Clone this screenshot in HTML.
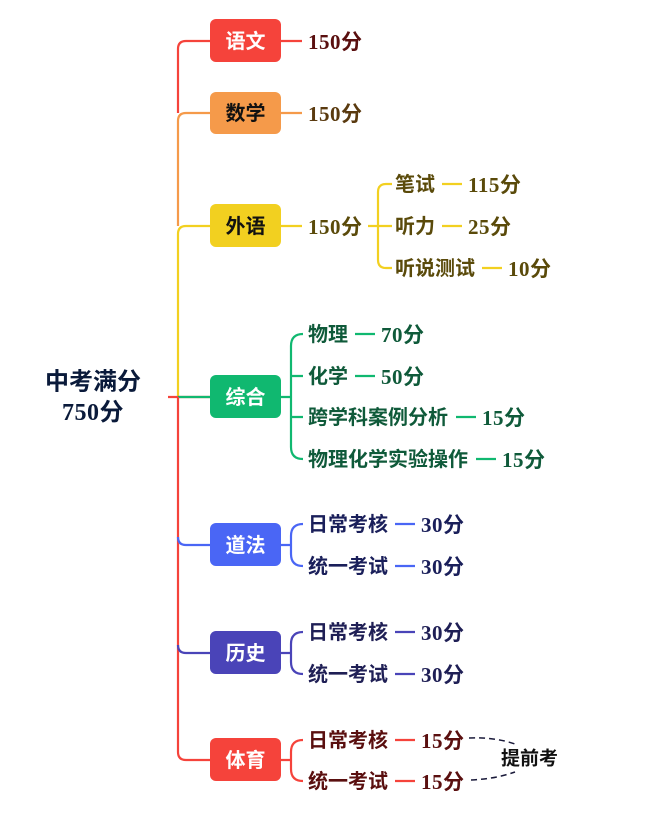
<!DOCTYPE html>
<html><head><meta charset="utf-8"><style>
body{margin:0;background:#fff;}
svg{display:block}
.c{font-family:"Liberation Sans","Noto Sans CJK SC",sans-serif;font-weight:bold;font-size:20px;dominant-baseline:central}
.n{font-family:"Liberation Serif","Noto Sans CJK SC",serif;font-weight:bold;font-size:21px;letter-spacing:0.5px;dominant-baseline:central}
</style></head><body>
<svg width="654" height="823" viewBox="0 0 654 823" xmlns="http://www.w3.org/2000/svg">
<g fill="none" stroke-width="2.2">
<path d="M210 41 H186 Q178 41 178 49 V113" stroke="#f5433b"/>
<path d="M210 113 H186 Q178 113 178 121 V226" stroke="#f59a4a"/>
<path d="M210 226 H186 Q178 226 178 234 V397" stroke="#f2d020"/>
<path d="M168 397 H210" stroke="#f5433b"/>
<path d="M178 397 H210" stroke="#10b870"/>
<path d="M178 397 V752 Q178 760 186 760 H210" stroke="#f5433b"/>
<path d="M178 537 Q178 545 186 545 H210" stroke="#4a66f5"/>
<path d="M178 645 Q178 653 186 653 H210" stroke="#4a44b8"/>
<path d="M281 41 H302" stroke="#f5433b"/>
<path d="M281 113 H302" stroke="#f59a4a"/>
<path d="M281 226 H302" stroke="#f2d020"/>
<path d="M368 226 H392 M386 184 Q378 184 378 192 V260 Q378 268 386 268 H392 M386 184 H392 M442 184 H462 M442 226 H462 M482 268 H502" stroke="#f2d020"/>
<path d="M281 397 H291 M303 334 Q291 334 291 346 V447 Q291 459 303 459 M291 376 Q291 376 303 376 M291 417 H303 M355 334 H375 M355 376 H375 M456 417 H476 M476 459 H496" stroke="#10b870"/>
<path d="M281 545 H291 M303 524 Q291 524 291 536 V554 Q291 566 303 566 M395 524 H415 M395 566 H415" stroke="#4a66f5"/>
<path d="M281 653 H291 M303 632 Q291 632 291 644 V662 Q291 674 303 674 M395 632 H415 M395 674 H415" stroke="#4a44b8"/>
<path d="M281 760 H291 M303 740 Q291 740 291 752 V769 Q291 781 303 781 M395 740 H415 M395 781 H415" stroke="#f5433b"/>
<path d="M469 738 Q495 737 515 744 M471 780 Q495 779 515 772" stroke="#1a1a3a" stroke-width="1.5" stroke-dasharray="6 4"/>
</g>
<rect x="210" y="19" width="71" height="43" rx="6" fill="#f5433b"/>
<rect x="210" y="92" width="71" height="42" rx="6" fill="#f59a4a"/>
<rect x="210" y="204" width="71" height="43" rx="6" fill="#f2d020"/>
<rect x="210" y="375" width="71" height="43" rx="6" fill="#10b870"/>
<rect x="210" y="523" width="71" height="43" rx="6" fill="#4a66f5"/>
<rect x="210" y="631" width="71" height="43" rx="6" fill="#4a44b8"/>
<rect x="210" y="738" width="71" height="43" rx="6" fill="#f5433b"/>
<g class="c" text-anchor="middle">
<text x="245.5" y="42" fill="#fff">语文</text>
<text x="245.5" y="114" fill="#111">数学</text>
<text x="245.5" y="227" fill="#111">外语</text>
<text x="245.5" y="398" fill="#fff">综合</text>
<text x="245.5" y="546" fill="#fff">道法</text>
<text x="245.5" y="654" fill="#fff">历史</text>
<text x="245.5" y="761" fill="#fff">体育</text>
<text x="93" y="382" fill="#0a1a3a" style="font-size:24px">中考满分</text>
</g>
<text class="n" x="93" y="413" text-anchor="middle" fill="#0a1a3a" style="font-size:24px">750分</text>
<g class="n">
<text x="308" y="42" fill="#5a0f0f">150分</text>
<text x="308" y="114" fill="#5a3a0f">150分</text>
<text x="308" y="227" fill="#5a4a0a">150分</text>
<text x="468" y="185" fill="#5a4a0a">115分</text>
<text x="468" y="227" fill="#5a4a0a">25分</text>
<text x="508" y="269" fill="#5a4a0a">10分</text>
<text x="381" y="335" fill="#0f5a3a">70分</text>
<text x="381" y="377" fill="#0f5a3a">50分</text>
<text x="482" y="418" fill="#0f5a3a">15分</text>
<text x="502" y="460" fill="#0f5a3a">15分</text>
<text x="421" y="525" fill="#1a1f5a">30分</text>
<text x="421" y="567" fill="#1a1f5a">30分</text>
<text x="421" y="633" fill="#1f1f55">30分</text>
<text x="421" y="675" fill="#1f1f55">30分</text>
<text x="421" y="741" fill="#5a0f0f">15分</text>
<text x="421" y="782" fill="#5a0f0f">15分</text>
</g>
<g class="c">
<text x="395" y="185" fill="#5a4a0a">笔试</text>
<text x="395" y="227" fill="#5a4a0a">听力</text>
<text x="395" y="269" fill="#5a4a0a">听说测试</text>
<text x="308" y="335" fill="#0f5a3a">物理</text>
<text x="308" y="377" fill="#0f5a3a">化学</text>
<text x="308" y="418" fill="#0f5a3a">跨学科案例分析</text>
<text x="308" y="460" fill="#0f5a3a">物理化学实验操作</text>
<text x="308" y="525" fill="#1a1f5a">日常考核</text>
<text x="308" y="567" fill="#1a1f5a">统一考试</text>
<text x="308" y="633" fill="#1f1f55">日常考核</text>
<text x="308" y="675" fill="#1f1f55">统一考试</text>
<text x="308" y="741" fill="#5a0f0f">日常考核</text>
<text x="308" y="782" fill="#5a0f0f">统一考试</text>
<text x="501" y="759" fill="#111" style="font-size:19px">提前考</text>
</g>
</svg>
</body></html>
